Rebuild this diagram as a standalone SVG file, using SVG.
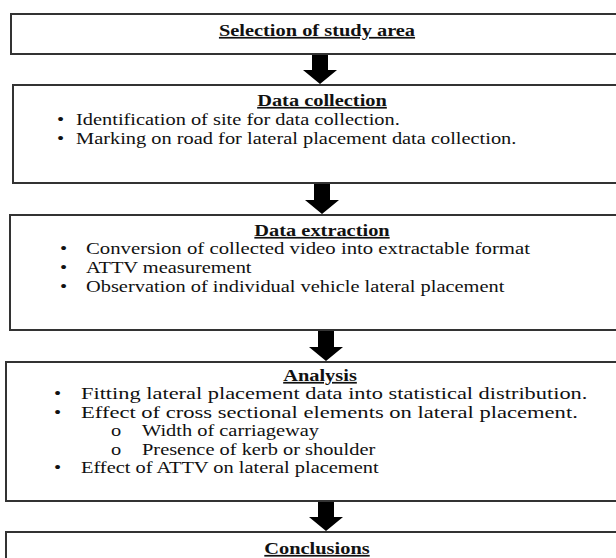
<svg xmlns="http://www.w3.org/2000/svg" width="616" height="558" viewBox="0 0 616 558">
<style>
.box{fill:#fff;stroke:#333;stroke-width:2}
.arr{fill:#000}
text{font-family:"Liberation Serif","Times New Roman",serif;font-size:17px;fill:#111}
.t{font-weight:bold;text-decoration:underline;text-anchor:middle}
</style>
<rect width="616" height="558" fill="#fff"/>
<g id="connectors">
<polygon class="arr" points="312,54 328,54 328,70 337,70 320,84 303,70 312,70"/>
<polygon class="arr" points="314,183 330,183 330,200 339,200 322,214 305,200 314,200"/>
<polygon class="arr" points="318,330 334,330 334,347 343,347 326,361 309,347 318,347"/>
<polygon class="arr" points="318,501 334,501 334,517 343,517 326,531 309,517 318,517"/>
</g>
<g id="n1">
<rect class="box" x="11" y="14" width="620" height="40"/>
<text class="t" transform="translate(317,36) scale(1.2,1)">Selection of study area</text>
</g>
<g id="n2">
<rect class="box" x="13" y="85" width="620" height="98"/>
<text class="t" transform="translate(322,106) scale(1.2,1)">Data collection</text>
<text transform="translate(57,125) scale(1.2,1)">•</text>
<text transform="translate(76,125) scale(1.2,1)">Identification of site for data collection.</text>
<text transform="translate(57,144) scale(1.2,1)">•</text>
<text transform="translate(76,144) scale(1.2,1)">Marking on road for lateral placement data collection.</text>
</g>
<g id="n3">
<rect class="box" x="10" y="215" width="620" height="115"/>
<text class="t" transform="translate(322,236) scale(1.2,1)">Data extraction</text>
<text transform="translate(60,254) scale(1.2,1)">•</text>
<text transform="translate(86,254) scale(1.2,1)" textLength="370" lengthAdjust="spacingAndGlyphs">Conversion of collected video into extractable format</text>
<text transform="translate(60,273) scale(1.2,1)">•</text>
<text transform="translate(86,273) scale(1.2,1)">ATTV measurement</text>
<text transform="translate(60,292) scale(1.2,1)">•</text>
<text transform="translate(86,292) scale(1.2,1)">Observation of individual vehicle lateral placement</text>
</g>
<g id="n4">
<rect class="box" x="6" y="362" width="620" height="139"/>
<text class="t" transform="translate(320,381) scale(1.2,1)">Analysis</text>
<text transform="translate(54,399) scale(1.2,1)">•</text>
<text transform="translate(81,399) scale(1.2,1)" textLength="422" lengthAdjust="spacingAndGlyphs">Fitting lateral placement data into statistical distribution.</text>
<text transform="translate(54,417.5) scale(1.2,1)">•</text>
<text transform="translate(81,417.5) scale(1.2,1)" textLength="414" lengthAdjust="spacingAndGlyphs">Effect of cross sectional elements on lateral placement.</text>
<text transform="translate(111,436) scale(1.2,1)">o</text>
<text transform="translate(142,436) scale(1.2,1)">Width of carriageway</text>
<text transform="translate(111,454.5) scale(1.2,1)">o</text>
<text transform="translate(142,454.5) scale(1.2,1)">Presence of kerb or shoulder</text>
<text transform="translate(54,473) scale(1.2,1)">•</text>
<text transform="translate(81,473) scale(1.2,1)">Effect of ATTV on lateral placement</text>
</g>
<g id="n5">
<rect class="box" x="6" y="532" width="620" height="40"/>
<text class="t" transform="translate(317,554) scale(1.2,1)">Conclusions</text>
</g>
</svg>
